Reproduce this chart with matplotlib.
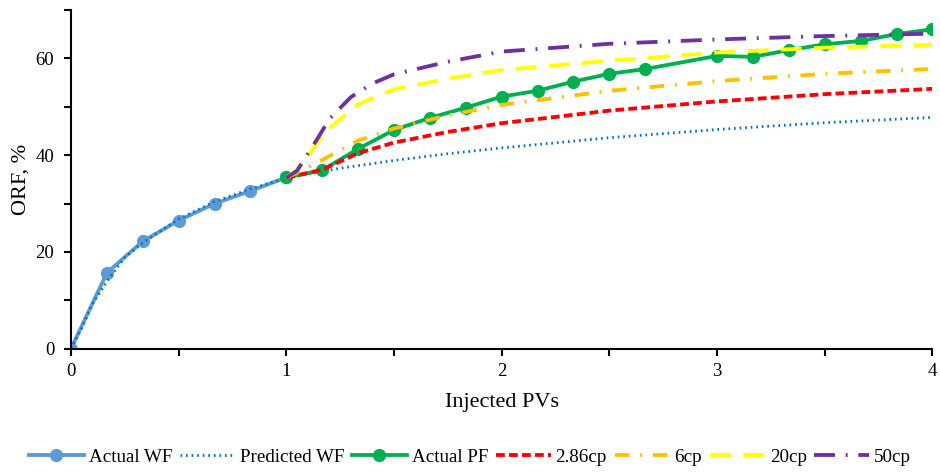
import matplotlib.pyplot as plt
from matplotlib.ticker import MultipleLocator

plt.rcParams['font.family'] = ['Liberation Serif', 'DejaVu Serif']

# Actual waterflood
wf_x = [0, 0.167, 0.333, 0.5, 0.667, 0.833, 1.0]
wf_y = [0, 15.7, 22.2, 26.5, 30.0, 32.6, 35.4]

# Predicted waterflood
pwf_x = [0, 0.05, 0.1, 0.167, 0.25, 0.333, 0.5, 0.667, 0.833, 1.0, 1.25, 1.5, 1.75, 2.0, 2.5, 3.0, 3.5, 4.0]
pwf_y = [0, 4.3, 9.3, 13.9, 18.9, 21.9, 26.8, 30.4, 33.0, 35.3, 37.3, 38.9, 40.3, 41.5, 43.6, 45.3, 46.7, 47.8]

# Actual polymer flood
pf_x = [1.0, 1.167, 1.333, 1.5, 1.667, 1.833, 2.0, 2.167, 2.333, 2.5, 2.667, 3.0, 3.167, 3.333, 3.5, 3.667, 3.833, 4.0]
pf_y = [35.4, 36.9, 41.3, 45.2, 47.7, 49.8, 52.1, 53.3, 55.2, 56.8, 57.8, 60.5, 60.3, 61.7, 62.9, 63.6, 65.0, 66.0]

# Predicted polymer floods by viscosity
cp286_x = [1.0, 1.167, 1.333, 1.5, 1.75, 2.0, 2.5, 3.0, 3.5, 4.0]
cp286_y = [35.3, 37.0, 40.4, 42.6, 44.8, 46.6, 49.2, 51.1, 52.6, 53.7]

cp6_x = [1.0, 1.1, 1.2, 1.333, 1.5, 1.75, 2.0, 2.5, 3.0, 3.5, 4.0]
cp6_y = [35.3, 37.5, 39.8, 43.0, 45.5, 48.2, 50.4, 53.3, 55.3, 56.8, 57.8]

cp20_x = [1.0, 1.05, 1.1, 1.15, 1.2, 1.333, 1.5, 1.75, 2.0, 2.5, 3.0, 3.5, 4.0]
cp20_y = [35.3, 37.0, 39.8, 43.0, 45.6, 50.5, 53.6, 55.8, 57.6, 59.5, 61.2, 62.2, 62.8]

cp50_x = [1.0, 1.05, 1.1, 1.15, 1.2, 1.3, 1.4, 1.5, 1.75, 2.0, 2.5, 3.0, 3.5, 4.0]
cp50_y = [35.3, 36.8, 40.3, 43.8, 47.5, 52.0, 54.8, 56.7, 59.3, 61.4, 63.0, 63.9, 64.6, 65.1]

fig, ax = plt.subplots(figsize=(9.4, 4.72), dpi=100)
fig.subplots_adjust(left=0.0755, right=0.992, bottom=0.261, top=0.979)

ax.plot(wf_x, wf_y, color='#5B9BD5', lw=2.75, marker='o', ms=8.5, label='Actual WF')
ax.plot(pwf_x, pwf_y, color='#0070C0', lw=2, linestyle=(0, (0.6, 1.4)), label='Predicted WF')
ax.plot(pf_x, pf_y, color='#00B050', lw=2.75, marker='o', ms=8.5, label='Actual PF')
ax.plot(cp286_x, cp286_y, color='#FF0000', lw=2.75, linestyle=(0, (2.3, 1.1)), label='2.86cp')
ax.plot(cp6_x, cp6_y, color='#FFC000', lw=2.75, linestyle=(0, (3.8, 2.8, 0.5, 2.8)), label='6cp')
ax.plot(cp20_x, cp20_y, color='#FFFF00', lw=2.75, linestyle=(0, (5.5, 3.2)), label='20cp')
ax.plot(cp50_x, cp50_y, color='#7030A0', lw=2.75, linestyle=(0, (5.5, 2.8, 0.5, 2.8)), label='50cp')

ax.set_xlim(0, 4)
ax.set_ylim(0, 70)
ax.xaxis.set_major_locator(MultipleLocator(1))
ax.xaxis.set_minor_locator(MultipleLocator(0.5))
ax.yaxis.set_major_locator(MultipleLocator(20))
ax.yaxis.set_minor_locator(MultipleLocator(10))
ax.tick_params(which='both', direction='out', length=5, width=1.5, labelsize=13.5)
ax.tick_params(axis='x', pad=5)
ax.tick_params(axis='y', pad=7)
ax.spines['top'].set_visible(False)
ax.spines['right'].set_visible(False)
ax.spines['left'].set_linewidth(1.5)
ax.spines['bottom'].set_linewidth(1.5)

ax.set_xlabel('Injected PVs', fontsize=16)
ax.set_ylabel('ORF, %', fontsize=16)
ax.xaxis.set_label_coords(0.5, -0.13)
ax.yaxis.set_label_coords(-0.047, 0.5)

fig.legend(loc='center', bbox_to_anchor=(0.5, 15 / 472), ncol=7, frameon=False,
           fontsize=13.7, handlelength=2.9, columnspacing=0.4, handletextpad=0.25)

fig.savefig('out.png', dpi=100)
